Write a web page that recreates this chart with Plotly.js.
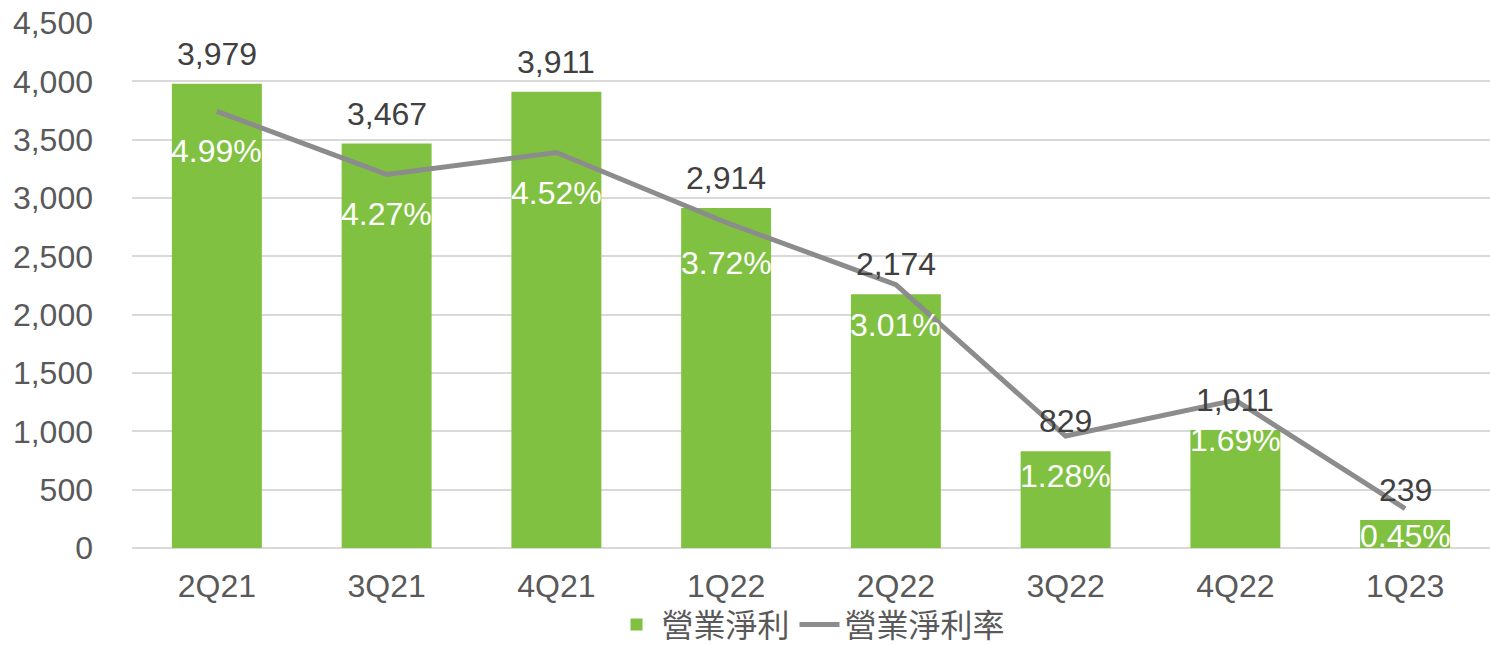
<!DOCTYPE html>
<html>
<head>
<meta charset="utf-8">
<script src="https://cdn.plot.ly/plotly-3.0.1.min.js"></script>
<style>html,body{margin:0;padding:0;background:#fff;}#chart{width:1490px;height:645px;}</style>
</head>
<body>
<div id="chart"></div>
<script>
const categories = ['2Q21','3Q21','4Q21','1Q22','2Q22','3Q22','4Q22','1Q23'];
const netProfit = [3979, 3467, 3911, 2914, 2174, 829, 1011, 239];
const netMargin = [4.99, 4.27, 4.52, 3.72, 3.01, 1.28, 1.69, 0.45];
const barName = '營業淨利';
const lineName = '營業淨利率';

const FONT = '"Liberation Sans", Arial, "Noto Sans CJK TC", sans-serif';
const plotH = 645 - 23 - 97;
const y2Max = 6;

const annotations = [];
categories.forEach((c, i) => {
  annotations.push({
    x: c, y: netProfit[i], xref: 'x', yref: 'y',
    text: netProfit[i].toLocaleString('en-US'),
    showarrow: false, yanchor: 'middle', yshift: 30,
    font: {family: FONT, size: 32, color: '#404040'}
  });
  const pxAbove = netMargin[i] / y2Max * plotH;
  const shift = Math.min(40, pxAbove - 12);
  annotations.push({
    x: c, y: netMargin[i], xref: 'x', yref: 'y2',
    text: netMargin[i].toFixed(2) + '%',
    showarrow: false, yanchor: 'middle', yshift: -shift,
    font: {family: FONT, size: 32, color: '#ffffff'}
  });
});

const traces = [
  {
    type: 'bar', x: categories, y: netProfit, name: barName,
    marker: {color: '#80C141'}, hoverinfo: 'skip'
  },
  {
    type: 'scatter', mode: 'lines', x: categories, y: netMargin, yaxis: 'y2',
    name: lineName, line: {color: '#8C8C8C', width: 5}, hoverinfo: 'skip'
  }
];

const layout = {
  width: 1490, height: 645,
  margin: {l: 132, r: 0, t: 23, b: 97, autoexpand: false},
  paper_bgcolor: '#ffffff', plot_bgcolor: '#ffffff',
  font: {family: FONT, size: 32, color: '#595959'},
  bargap: 0.47,
  showlegend: true,
  legend: {orientation: 'h', x: 0.5, xanchor: 'center', y: -0.146, yanchor: 'middle',
           bgcolor: 'rgba(0,0,0,0)',
           font: {family: FONT, size: 32, color: '#595959'}, itemwidth: 40, tracegroupgap: 0},
  xaxis: {
    type: 'category', showgrid: false, zeroline: false, showline: false,
    ticks: '', ticklabelstandoff: 16,
    tickfont: {family: FONT, size: 32, color: '#595959'}
  },
  yaxis: {
    range: [0, 4500], tickvals: [0,500,1000,1500,2000,2500,3000,3500,4000,4500],
    tickformat: ',d', showgrid: true, gridcolor: '#D9D9D9', gridwidth: 2,
    zeroline: true, zerolinecolor: '#D9D9D9', zerolinewidth: 2,
    showline: false, ticks: '', ticklabelstandoff: 38,
    tickfont: {family: FONT, size: 32, color: '#595959'}
  },
  yaxis2: {
    range: [0, y2Max], overlaying: 'y', side: 'right', visible: false,
    showgrid: false, zeroline: false
  },
  annotations: annotations
};

Plotly.newPlot('chart', traces, layout, {displayModeBar: false, staticPlot: true});
</script>
</body>
</html>
